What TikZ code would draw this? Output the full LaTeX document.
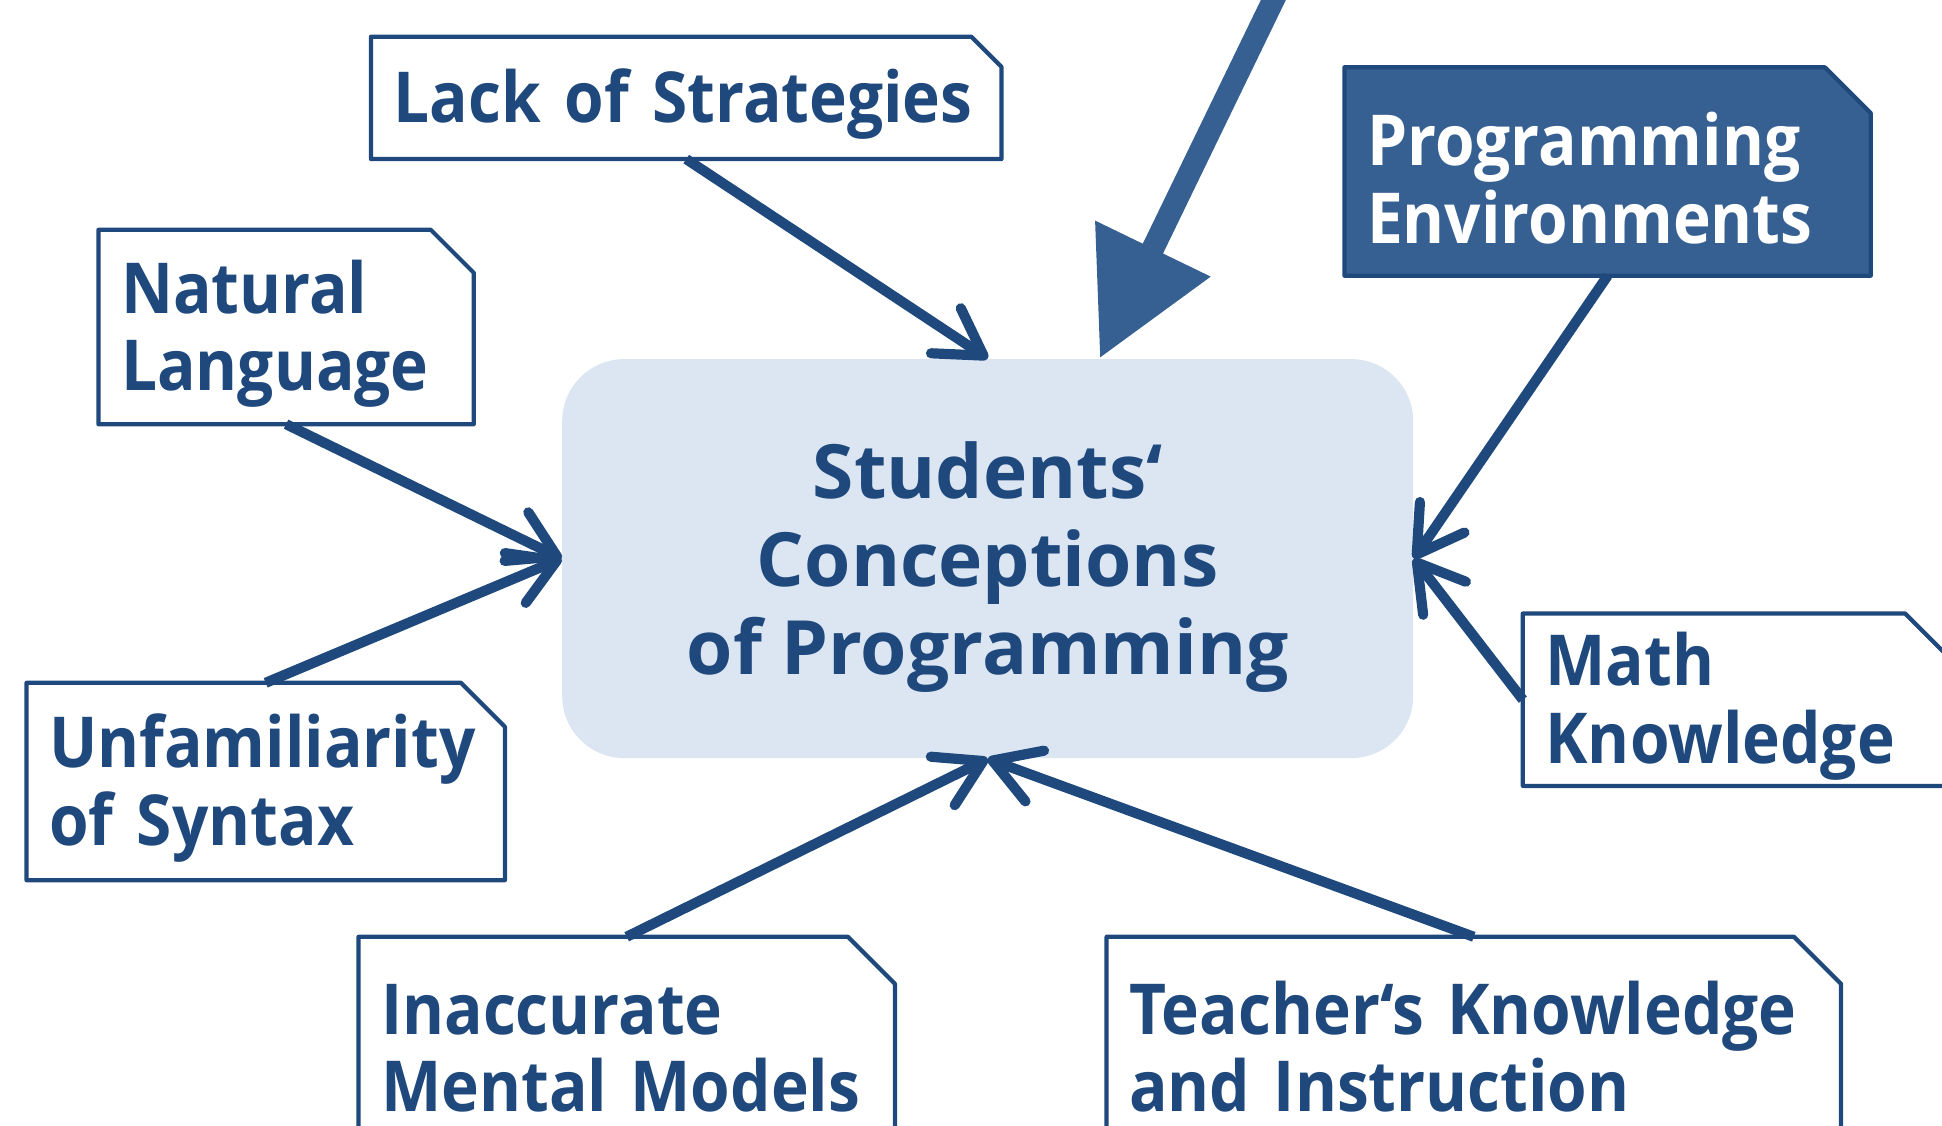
\documentclass[tikz,border=0pt]{standalone}
\usepackage{fontspec}
\setmainfont{Open Sans}
\newfontfamily\boxfont{Open Sans}[FakeStretch=0.91,WordSpace=0.75]
\protected\def\boxtype{\boxfont\fontsize{20}{22}\selectfont\bfseries}
\usetikzlibrary{arrows.meta,positioning,calc,backgrounds}
\definecolor{navy}{RGB}{31,73,125}
\definecolor{steel}{RGB}{55,96,146}
\definecolor{mist}{RGB}{220,230,242}
\tikzset{
  >={Straight Barb[length=4.5mm,width=5.4mm,round]},
  % box with one cut corner, drawn behind its text
  cut box/.style 2 args={append after command={\pgfextra{
    \begin{pgfonlayer}{background}
      \filldraw[fill=#2,draw=navy,line width=1.2pt,line join=round]
        (\tikzlastnode.north west) -- ([xshift=-#1]\tikzlastnode.north east)
        -- ([yshift=-#1]\tikzlastnode.north east) -- (\tikzlastnode.south east)
        -- (\tikzlastnode.south west) -- cycle;
    \end{pgfonlayer}}}},
  factor/.style={rectangle,inner sep=0pt,align=left,text=navy,text height=19pt,
    font=\boxtype,cut box={#1}{white}},
  factor/.default=4.4mm,
  hot factor/.style={rectangle,inner sep=0pt,align=left,text=white,text height=19pt,
    font=\boxtype,cut box={#1}{steel}},
  hot factor/.default=4.6mm,
  core/.style={fill=mist,rounded corners=6.2mm,align=center,text=navy,text height=71pt,
    font=\fontsize{21.3}{25}\selectfont\bfseries},
  flow/.style={->,draw=navy,line width=2.9pt},
  bold flow/.style={-{Triangle[length=12.2mm,width=12.2mm]},draw=steel,line width=6.4pt},
}
\begin{document}
\begin{tikzpicture}
  \useasboundingbox (0,0) rectangle (19.42,11.25);
  \node[core,minimum width=85.1mm,minimum height=39.9mm] (concept) at (9.877,5.664)
    {Students‘\\Conceptions\\of Programming};
  % influences around the centre
  \node[factor=3mm,minimum width=62.9mm,minimum height=12.1mm,text width=58.5mm] (lack) at (6.862,10.271)
    {Lack of Strategies};
  \node[factor=4.3mm,minimum width=37.4mm,minimum height=19.3mm,text width=33mm] (natural) at (2.861,7.98)
    {Natural\\Language};
  \node[factor,minimum width=47.7mm,minimum height=19.6mm,text width=43.3mm] (syntax) at (2.657,3.435)
    {Unfamiliarity\\of Syntax};
  \node[factor=4.7mm,minimum width=53.5mm,minimum height=20.5mm,text width=49.1mm] (mental) at (6.267,0.85)
    {Inaccurate\\Mental Models};
  \node[factor=4.7mm,minimum width=73.3mm,minimum height=20.5mm,text width=68.9mm] (teacher) at (14.738,0.85)
    {Teacher‘s Knowledge\\and Instruction};
  \node[factor=4.6mm,minimum width=42.7mm,minimum height=17.1mm,text width=38.3mm] (math) at (17.37,4.253)
    {Math\\Knowledge};
  \node[hot factor,minimum width=52.5mm,minimum height=20.7mm,text width=48.1mm] (env) at (16.076,9.535)
    {Programming\\Environments};
  \draw[flow] (lack.south) -- (concept.north);
  \draw[flow] (natural.south) -- (concept.west);
  \draw[flow] (syntax.north) -- (concept.west);
  \draw[flow] (mental.north) -- (concept.south);
  \draw[flow] (teacher.north) -- (concept.south);
  \draw[flow] (env.south) -- (concept.east);
  \draw[flow] (math.west) -- (concept.east);
  % heavy arrow coming in from above
  \coordinate (feed) at (13.0,11.8);
  \draw[bold flow] (feed) -- ([xshift=11.2mm]concept.north);
\end{tikzpicture}
\end{document}
